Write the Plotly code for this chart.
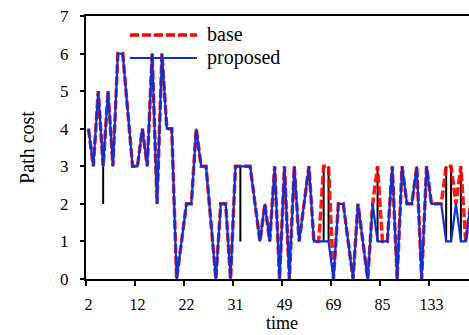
import plotly.graph_objects as go

# ---- data ----
tick_labels = ["2", "12", "22", "31", "49", "69", "85", "133"]
label_every = 10  # one time label every 10 samples

proposed = [4, 3, 5, 3, 5, 3, 6, 6, 4.5, 3,
            3, 4, 3, 6, 2, 6, 4, 4, 0, 1,
            2, 2, 4, 3, 3, 1.5, 0, 2, 2, 0,
            3, 3, 3, 3, 2, 1, 2, 1, 3, 0,
            3, 0, 3, 1, 2, 3, 1, 1, 1, 1,
            0, 2, 2, 1, 0, 2, 1, 0, 2, 1,
            1, 1, 3, 0, 3, 2, 2, 3, 0, 3,
            2, 2, 2, 1, 1, 2, 1, 1, 2]

base = [4, 3, 5, 3, 5, 3, 6, 6, 4.5, 3,
        3, 4, 3, 6, 2, 6, 4, 4, 0, 1,
        2, 2, 4, 3, 3, 1.5, 0, 2, 2, 0,
        3, 3, 3, 3, 2, 1, 2, 1, 3, 0,
        3, 0, 3, 1, 2, 3, 1, 1, 3, 3,
        0, 2, 2, 1, 0, 2, 1, 0, 2, 3,
        1, 1, 3, 0, 3, 2, 2, 3, 0, 3,
        2, 2, 2, 3, 3, 2, 3, 1, 2]

# third series (not in legend) only visible through the high-low lines
other = [4, 3, 5, 2, 5, 3, 6, 6, 4.5, 3,
         3, 4, 3, 6, 2, 6, 4, 4, 0, 1,
         2, 2, 4, 3, 3, 1.5, 0, 2, 2, 0,
         3, 1, 3, 3, 2, 1, 2, 1, 3, 0,
         3, 0, 3, 1, 2, 3, 1, 1, 1, 1,
         0, 2, 2, 1, 0, 2, 1, 0, 2, 1,
         1, 1, 3, 0, 3, 2, 2, 3, 0, 3,
         2, 2, 2, 1, 1, 2, 1, 1, 2]

x = list(range(len(proposed)))

# high-low lines (vertical black segments between min and max of all series)
hl_x, hl_y = [], []
for i in x:
    vals = [base[i], proposed[i], other[i]]
    lo, hi = min(vals), max(vals)
    if hi > lo:
        hl_x += [i, i, None]
        hl_y += [lo, hi, None]

FONT = "Liberation Serif"
RED = "#FF0000"
BLUE = "#0A32D2"

fig = go.Figure()
fig.add_trace(go.Scatter(x=hl_x, y=hl_y, mode="lines",
                         line=dict(color="black", width=2),
                         showlegend=False, hoverinfo="skip"))
fig.add_trace(go.Scatter(x=x, y=base, mode="lines", name="base",
                         line=dict(color=RED, width=3.5, dash="9px,3px"),
                         opacity=0.9, showlegend=False))
fig.add_trace(go.Scatter(x=x, y=proposed, mode="lines", name="proposed",
                         line=dict(color=BLUE, width=2.2),
                         showlegend=False))

W, H = 469, 335
L, R, T, B = 86, 0, 16, 56
pw, ph = W - L - R, H - T - B

def px(xp):
    return (xp - L) / pw

def py(yp):
    return (H - B - yp) / ph

# manual legend (long line samples like the reference)
legend_items = [("base", RED, "9px,3px", 3.5, 35), ("proposed", BLUE, "solid", 2.2, 58)]
for name, col, dash, w, yy in legend_items:
    fig.add_shape(type="line", xref="paper", yref="paper",
                  x0=px(130), x1=px(197), y0=py(yy), y1=py(yy),
                  line=dict(color=col, width=w, dash=dash))
    fig.add_annotation(xref="paper", yref="paper", x=px(205), y=py(yy - 1),
                       text=name, showarrow=False, xanchor="left", yanchor="middle",
                       font=dict(family=FONT, size=20, color="black"))

# x-axis title placed just below the tick labels
fig.add_annotation(xref="paper", yref="paper", x=px(282), y=py(335),
                   text="time", showarrow=False, xanchor="center", yanchor="bottom",
                   font=dict(family=FONT, size=18, color="black"))

label_pos = [k * label_every for k in range(len(tick_labels))]
boundary_pos = [p - 0.5 for p in label_pos]

fig.update_layout(
    width=W, height=H,
    margin=dict(l=L, r=R, t=T, b=B, pad=0),
    paper_bgcolor="white", plot_bgcolor="white",
    font=dict(family=FONT, size=17, color="black"),
    xaxis=dict(
        range=[-0.5, 77.66],
        tickmode="array", tickvals=label_pos, ticktext=tick_labels,
        ticks="", ticklabelstandoff=10, tickfont=dict(size=16),
        minor=dict(tickmode="array", tickvals=boundary_pos, ticks="outside",
                   ticklen=5, tickwidth=1.5, tickcolor="black"),
        showline=True, linecolor="black", linewidth=2, mirror=True,
        showgrid=False, zeroline=False,
    ),
    yaxis=dict(
        range=[0, 7], tickmode="array", tickvals=list(range(8)),
        ticks="outside", ticklen=4, tickwidth=1.5, tickcolor="black",
        ticklabelstandoff=8,
        showline=True, linecolor="black", linewidth=2,
        showgrid=False, zeroline=False,
        title=dict(text="Path cost", standoff=20, font=dict(size=20)),
    ),
)

fig.write_html("out.html")
